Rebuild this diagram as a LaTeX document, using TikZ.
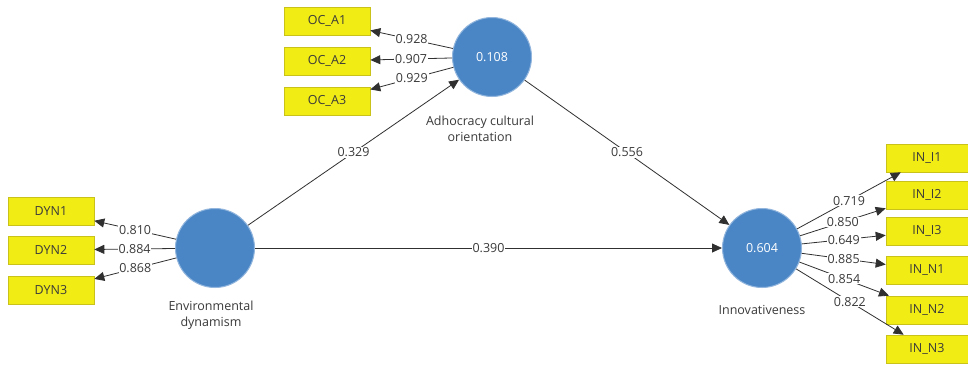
\documentclass[tikz,border=0pt]{standalone}
\usepackage{fontspec}
\setmainfont{Open Sans}
\usetikzlibrary{arrows.meta}
\definecolor{lvblue}{HTML}{4A86C6}
\definecolor{mvyellow}{HTML}{F1EC14}
\definecolor{mvborder}{HTML}{C9C21A}
\definecolor{txt}{HTML}{3A3A3A}
\definecolor{ln}{HTML}{303030}
\tikzset{
  lv/.style={circle, fill=lvblue, draw=lvblue!60!white, line width=1pt, minimum size=79pt, inner sep=0pt, text=white, font=\fontsize{12.5}{14}\selectfont},
  mv/.style={rectangle, fill=mvyellow, draw=mvborder, line width=0.6pt, minimum width=86pt, minimum height=28pt, inner sep=0pt, text=txt, font=\fontsize{12.5}{14}\selectfont},
  mvr/.style={mv, minimum width=82pt},
  arr/.style={draw=ln, line width=0.8pt, -{Triangle[length=10pt,width=9pt]}, shorten >=0pt},
  lab/.style={fill=white, inner sep=0.8pt, text=txt, font=\fontsize{12.5}{14}\selectfont},
  lvname/.style={text=txt, align=center, font=\fontsize{12.5}{16.5}\selectfont},
}
\begin{document}
\begin{tikzpicture}[x=1pt,y=-1pt]
\useasboundingbox[fill=white] (0,0) rectangle (968,365);
% latent variables
\node[lv] (adh) at (492,57) {0.108};
\node[lv] (env) at (215,248) {};
\node[lv] (inn) at (762,248) {0.604};
\node[lvname] (adhn) at (480,129) {Adhocracy cultural\\orientation};
\node[lvname] (envn) at (211,315) {Environmental\\dynamism};
\node[lvname] (innn) at (762,310) {Innovativeness};
% indicators
\node[mv] (oca1) at (327,21) {OC\_A1};
\node[mv] (oca2) at (327,61) {OC\_A2};
\node[mv] (oca3) at (327,101) {OC\_A3};
\node[mv] (dyn1) at (51,211) {DYN1};
\node[mv] (dyn2) at (51,250) {DYN2};
\node[mv] (dyn3) at (51,290) {DYN3};
\node[mvr] (ini1) at (927,158) {IN\_I1};
\node[mvr] (ini2) at (927,195) {IN\_I2};
\node[mvr] (ini3) at (927,231) {IN\_I3};
\node[mvr] (inn1) at (927,270) {IN\_N1};
\node[mvr] (inn2) at (927,310) {IN\_N2};
\node[mvr] (inn3) at (927,349) {IN\_N3};
% outer loadings
\draw[arr] (adh) -- (oca1) node[lab, pos=0.5] {0.928};
\draw[arr] (adh) -- (oca2) node[lab, pos=0.5] {0.907};
\draw[arr] (adh) -- (oca3) node[lab, pos=0.5] {0.929};
\draw[arr] (env) -- (dyn1) node[lab, pos=0.5] {0.810};
\draw[arr] (env) -- (dyn2) node[lab, pos=0.5] {0.884};
\draw[arr] (env) -- (dyn3) node[lab, pos=0.5] {0.868};
\draw[arr] (inn) -- (ini1) node[lab, pos=0.5] {0.719};
\draw[arr] (inn) -- (ini2) node[lab, pos=0.5] {0.850};
\draw[arr] (inn) -- (ini3) node[lab, pos=0.5] {0.649};
\draw[arr] (inn) -- (inn1) node[lab, pos=0.5] {0.885};
\draw[arr] (inn) -- (inn2) node[lab, pos=0.5] {0.854};
\draw[arr] (inn) -- (inn3) node[lab, pos=0.5] {0.822};
% path coefficients
\draw[arr] (env) -- (adh) node[lab, pos=0.5] {0.329};
\draw[arr] (env) -- (inn) node[lab, pos=0.5] {0.390};
\draw[arr] (adh) -- (inn) node[lab, pos=0.5] {0.556};
\end{tikzpicture}
\end{document}
